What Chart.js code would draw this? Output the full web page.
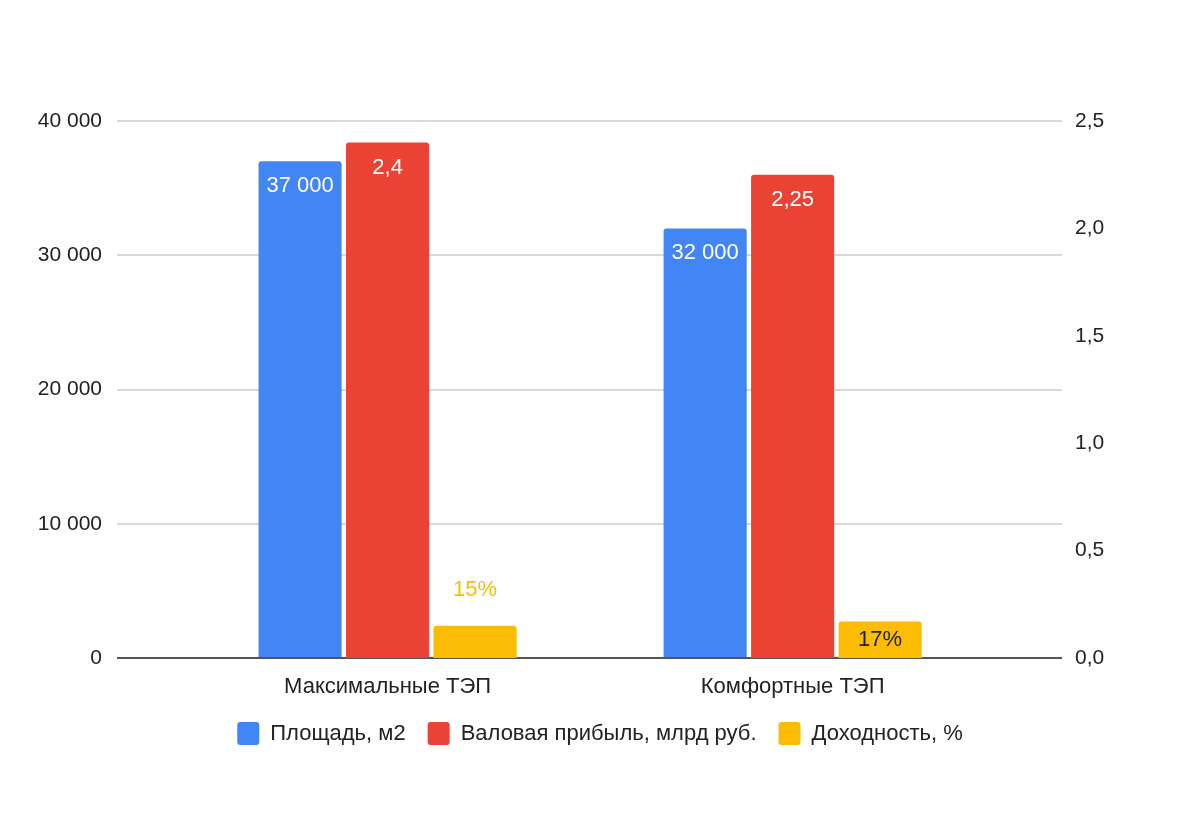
<!DOCTYPE html>
<html>
<head>
<meta charset="utf-8">
<script src="https://cdn.jsdelivr.net/npm/chart.js@4/dist/chart.umd.min.js"></script>
<style>
	html, body { margin: 0; padding: 0; background: #fff; }
	#wrap { width: 1200px; height: 820px; }
</style>
</head>
<body>
<div id="wrap"><canvas id="tepChart" width="1200" height="820"></canvas></div>
<script>
// данные с картинки
const categories = ['Максимальные ТЭП', 'Комфортные ТЭП'];
const areaValues = [37000, 32000];      // Площадь, м2 (левая ось)
const profitValues = [2.4, 2.25];       // Валовая прибыль, млрд руб. (правая ось)
const yieldValues = [0.15, 0.17];       // Доходность (правая ось, доли)
const leftTicks = [0, 10000, 20000, 30000, 40000];
const rightTicks = [0, 0.5, 1.0, 1.5, 2.0, 2.5];

const BLUE = '#4285F4';
const RED = '#EA4335';
const YELLOW = '#FBBC04';
const FONT = '"Liberation Sans", Arial, sans-serif';

function spaced(v)
{
	return String(v).replace(/\B(?=(\d{3})+(?!\d))/g, ' ');
}

function toPoints(values)
{
	return values.map((v, i) => ({ x: i, y: v }));
}

// подписи значений на столбцах
const barLabels = {
	id: 'barLabels',
	afterDatasetsDraw(chart) {
		const ctx = chart.ctx;
		ctx.save();
		ctx.font = '22px ' + FONT;
		ctx.textAlign = 'center';
		ctx.textBaseline = 'middle';
		chart.data.datasets.forEach((ds, di) => {
			const meta = chart.getDatasetMeta(di);
			meta.data.forEach((bar, i) => {
				const h = bar.base - bar.y;
				const text = ds.labelText[i];
				if (h < 34) {
					ctx.fillStyle = ds.backgroundColor;
					ctx.fillText(text, bar.x, bar.y - 36);
				} else {
					ctx.fillStyle = ds.insideColor;
					ctx.fillText(text, bar.x, bar.y + Math.min(25, h / 2));
				}
			});
		});
		ctx.restore();
	}
};

const ctx = document.getElementById('tepChart').getContext('2d');
new Chart(ctx, {
	type: 'bar',
	data: {
		datasets: [
			{
				label: 'Площадь, м2',
				data: toPoints(areaValues),
				labelText: areaValues.map(spaced),
				insideColor: '#ffffff',
				backgroundColor: BLUE,
				yAxisID: 'yLeft'
			},
			{
				label: 'Валовая прибыль, млрд руб.',
				data: toPoints(profitValues),
				labelText: profitValues.map(v => String(v).replace('.', ',')),
				insideColor: '#ffffff',
				backgroundColor: RED,
				yAxisID: 'yRight'
			},
			{
				label: 'Доходность, %',
				data: toPoints(yieldValues),
				labelText: yieldValues.map(v => Math.round(v * 100) + '%'),
				insideColor: '#222222',
				backgroundColor: YELLOW,
				yAxisID: 'yRight'
			}
		]
	},
	options: {
		responsive: false,
		animation: false,
		layout: { padding: { top: 121, bottom: 65, left: 0, right: 0 } },
		datasets: {
			bar: {
				categoryPercentage: 0.648,
				barPercentage: 0.95,
				borderRadius: { topLeft: 3, topRight: 3 },
				borderSkipped: 'bottom'
			}
		},
		scales: {
			x: {
				type: 'linear',
				offset: false,
				min: -0.668,
				max: 1.665,
				afterBuildTicks: (scale) => {
					scale.ticks = categories.map((c, i) => ({ value: i }));
				},
				afterFit: (scale) => { scale.height = 42; },
				grid: { display: false, offset: false },
				border: { display: false },
				ticks: {
					padding: 8,
					color: '#222',
					font: { family: FONT, size: 22 },
					callback: (v) => categories[v] ?? ''
				}
			},
			yLeft: {
				position: 'left',
				min: 0,
				max: 40000,
				afterBuildTicks: (scale) => {
					scale.ticks = leftTicks.map(v => ({ value: v }));
				},
				afterFit: (scale) => { scale.width = 117; },
				border: { display: false },
				grid: {
					drawTicks: false,
					lineWidth: 2,
					color: (c) => c.tick && c.tick.value === 0 ? '#555555' : '#d9d9d9'
				},
				ticks: {
					padding: 15,
					color: '#222',
					font: { family: FONT, size: 21 },
					callback: (v) => spaced(v)
				}
			},
			yRight: {
				position: 'right',
				min: 0,
				max: 2.5,
				afterBuildTicks: (scale) => {
					scale.ticks = rightTicks.map(v => ({ value: v }));
				},
				afterFit: (scale) => { scale.width = 138; },
				border: { display: false },
				grid: { display: false, drawTicks: false },
				ticks: {
					padding: 13,
					color: '#222',
					font: { family: FONT, size: 21 },
					callback: (v) => v.toFixed(1).replace('.', ',')
				}
			}
		},
		plugins: {
			tooltip: { enabled: false },
			legend: {
				position: 'bottom',
				labels: {
					color: '#222',
					font: { family: FONT, size: 22 },
					boxWidth: 22,
					boxHeight: 23,
					useBorderRadius: true,
					borderRadius: 3,
					padding: 22
				}
			}
		}
	},
	plugins: [barLabels]
});
</script>
</body>
</html>
